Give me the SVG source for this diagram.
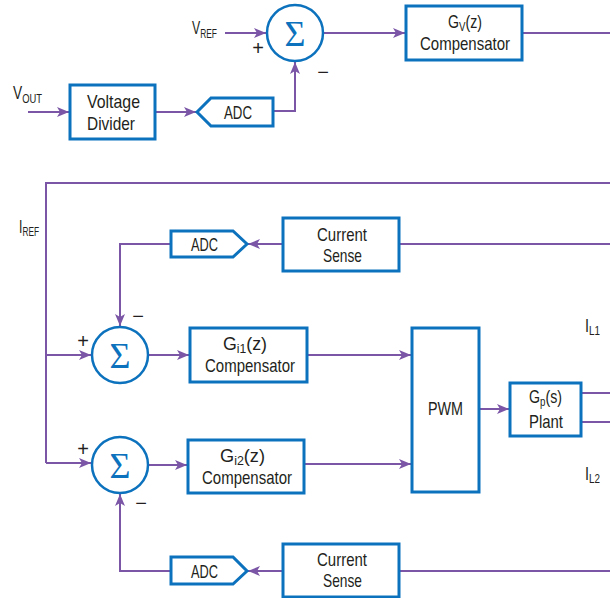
<svg xmlns="http://www.w3.org/2000/svg" width="610" height="598" viewBox="0 0 610 598">
<defs>
<marker id="ah" viewBox="0 0 12 10" refX="12" refY="5" markerWidth="12" markerHeight="10" markerUnits="userSpaceOnUse" orient="auto">
<path d="M0,0 L12,5 L0,10 L3,5 Z" fill="#7b55a6"/>
</marker>
<style>
.box{fill:#fff;stroke:#0c72bd;stroke-width:3}
.sum{fill:#fff;stroke:#0c72bd;stroke-width:2.5}
.ln{fill:none;stroke:#7b55a6;stroke-width:2}
.arr{fill:none;stroke:#7b55a6;stroke-width:2;marker-end:url(#ah)}
.t{font-family:"Liberation Sans",Arial,sans-serif;font-size:19px;fill:#231f20}
.s{font-size:13px}
.sig{font-family:"Liberation Serif",serif;font-size:36px;fill:#0c72bd;text-anchor:middle}
.pm{font-family:"Liberation Sans",sans-serif;font-size:20px;fill:#231f20;text-anchor:middle}
</style>
</defs>
<g id="connectors">
<path class="arr" d="M225,33 H266"/>
<path class="arr" d="M323,33 H405"/>
<path class="ln" d="M522,33 H610"/>
<path class="arr" d="M28,112 H69"/>
<path class="arr" d="M155,112 H196"/>
<path class="arr" d="M273,111 H295 V62"/>
<path class="ln" d="M610,183 H46 V463"/>
<path class="arr" d="M46,355 H91"/>
<path class="arr" d="M46,463 H91"/>
<path class="ln" d="M610,244 H399"/>
<path class="arr" d="M283,244 H248"/>
<path class="arr" d="M171,244 H120 V326"/>
<path class="arr" d="M148,355 H189"/>
<path class="arr" d="M307,355 H411"/>
<path class="arr" d="M148,465 H187"/>
<path class="arr" d="M304,464 H411"/>
<path class="arr" d="M479,409 H509"/>
<path class="ln" d="M581,393 H610"/>
<path class="ln" d="M581,422 H610"/>
<path class="ln" d="M610,571 H399"/>
<path class="arr" d="M283,571 H248"/>
<path class="arr" d="M171,571 H120 V494"/>
</g>
<g id="labels">
<text class="t" x="192" y="34" textLength="25" lengthAdjust="spacingAndGlyphs">V<tspan class="s" dy="4">REF</tspan></text>
<text class="t" x="13" y="99" textLength="29" lengthAdjust="spacingAndGlyphs">V<tspan class="s" dy="4">OUT</tspan></text>
<text class="t" x="19" y="233" textLength="20" lengthAdjust="spacingAndGlyphs">I<tspan class="s" dy="3">REF</tspan></text>
<text class="t" x="585" y="332" textLength="15" lengthAdjust="spacingAndGlyphs">I<tspan class="s" dy="3">L1</tspan></text>
<text class="t" x="585" y="480" textLength="15" lengthAdjust="spacingAndGlyphs">I<tspan class="s" dy="3">L2</tspan></text>
<text class="pm" x="258" y="55">+</text>
<text class="pm" x="323" y="79">−</text>
<text class="pm" x="83" y="348">+</text>
<text class="pm" x="138" y="323">−</text>
<text class="pm" x="83" y="456">+</text>
<text class="pm" x="141" y="510">−</text>
</g>
<g id="sum_v"><circle class="sum" cx="295" cy="33" r="28"/><text class="sig" x="295" y="46">Σ</text></g>
<g id="gv"><rect class="box" x="406" y="6" width="116" height="54"/><text class="t" x="448" y="28" textLength="34" lengthAdjust="spacingAndGlyphs">G<tspan class="s" dy="3">V</tspan><tspan dy="-3">(z)</tspan></text><text class="t" x="420" y="50" textLength="90" lengthAdjust="spacingAndGlyphs">Compensator</text></g>
<g id="vdiv"><rect class="box" x="70" y="85" width="85" height="54"/><text class="t" x="87" y="108" textLength="53" lengthAdjust="spacingAndGlyphs">Voltage</text><text class="t" x="87" y="130" textLength="48" lengthAdjust="spacingAndGlyphs">Divider</text></g>
<g id="adc_v"><polygon class="box" points="197,112 211,98 273,98 273,126 211,126"/><text class="t" x="224" y="119" textLength="28" lengthAdjust="spacingAndGlyphs">ADC</text></g>
<g id="adc1"><polygon class="box" points="171,231 233,231 247,244 233,257 171,257"/><text class="t" x="191" y="251" textLength="27" lengthAdjust="spacingAndGlyphs">ADC</text></g>
<g id="cs1"><rect class="box" x="283" y="218" width="116" height="53"/><text class="t" x="317" y="241" textLength="50" lengthAdjust="spacingAndGlyphs">Current</text><text class="t" x="323" y="262" textLength="39" lengthAdjust="spacingAndGlyphs">Sense</text></g>
<g id="sum1"><circle class="sum" cx="120" cy="355" r="28"/><text class="sig" x="120" y="368">Σ</text></g>
<g id="gi1"><rect class="box" x="190" y="328" width="117" height="54"/><text class="t" x="223" y="350" textLength="44" lengthAdjust="spacingAndGlyphs">G<tspan class="s" dy="3">i1</tspan><tspan dy="-3">(z)</tspan></text><text class="t" x="205" y="372" textLength="90" lengthAdjust="spacingAndGlyphs">Compensator</text></g>
<g id="pwm"><rect class="box" x="412" y="328" width="67" height="164"/><text class="t" x="428" y="415" textLength="35" lengthAdjust="spacingAndGlyphs">PWM</text></g>
<g id="gp"><rect class="box" x="510" y="383" width="71" height="53"/><text class="t" x="529" y="403" textLength="33" lengthAdjust="spacingAndGlyphs">G<tspan class="s" dy="3">p</tspan><tspan dy="-3">(s)</tspan></text><text class="t" x="529" y="428" textLength="34" lengthAdjust="spacingAndGlyphs">Plant</text></g>
<g id="sum2"><circle class="sum" cx="120" cy="465" r="28"/><text class="sig" x="120" y="478">Σ</text></g>
<g id="gi2"><rect class="box" x="188" y="440" width="116" height="53"/><text class="t" x="220" y="462" textLength="45" lengthAdjust="spacingAndGlyphs">G<tspan class="s" dy="3">i2</tspan><tspan dy="-3">(z)</tspan></text><text class="t" x="202" y="484" textLength="90" lengthAdjust="spacingAndGlyphs">Compensator</text></g>
<g id="adc2"><polygon class="box" points="171,557 233,557 247,571 233,584 171,584"/><text class="t" x="191" y="578" textLength="27" lengthAdjust="spacingAndGlyphs">ADC</text></g>
<g id="cs2"><rect class="box" x="283" y="544" width="116" height="53"/><text class="t" x="317" y="566" textLength="50" lengthAdjust="spacingAndGlyphs">Current</text><text class="t" x="323" y="587" textLength="39" lengthAdjust="spacingAndGlyphs">Sense</text></g>
</svg>
